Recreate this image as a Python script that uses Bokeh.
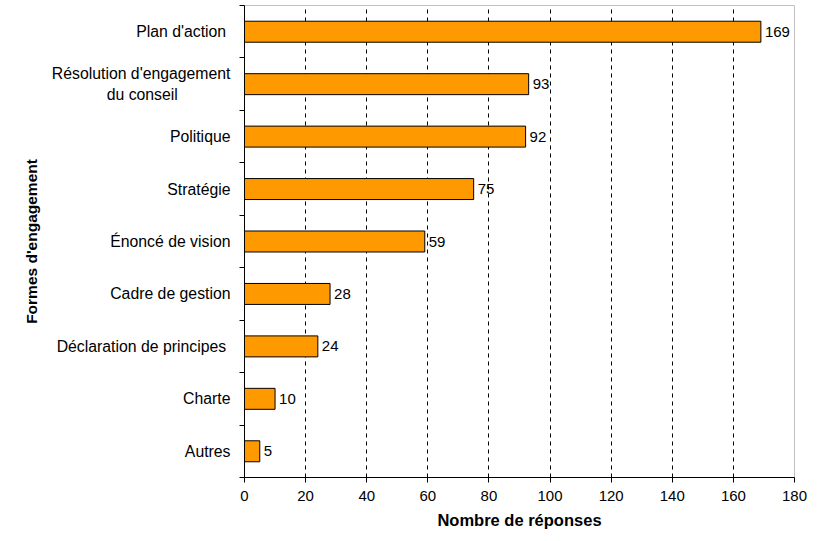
from bokeh.plotting import figure
from bokeh.models import ColumnDataSource, FixedTicker, Range1d
from bokeh.embed import file_html
from bokeh.resources import INLINE
from bokeh.core.properties import value

NB = "\u00a0"
categories = [
    "Plan d'action" + NB,
    "Résolution d'engagement\ndu conseil" + NB * 12,
    "Politique",
    "Stratégie",
    "Énoncé de vision",
    "Cadre de gestion",
    "Déclaration de principes" + NB,
    "Charte",
    "Autres",
]
counts = [169, 93, 92, 75, 59, 28, 24, 10, 5]
x_ticks = [0, 20, 40, 60, 80, 100, 120, 140, 160, 180]

n = len(categories)
ypos = [n - i - 0.5 for i in range(n)]
src = ColumnDataSource(dict(y=ypos, v=counts, lbl=[str(c) for c in counts]))

FONT = "Liberation Sans"

p = figure(
    width=831, height=533,
    x_range=Range1d(0, 180), y_range=Range1d(0, n),
    output_backend="svg", toolbar_location=None,
    min_border_left=244, min_border_right=37,
    min_border_top=5, min_border_bottom=56,
)
p.background_fill_color = "white"
p.border_fill_color = "white"
p.outline_line_color = "#C0C0C0"
p.outline_line_width = 1

p.hbar(y="y", left=0, right="v", height=0.4, source=src,
       fill_color="#FF9900", line_color="#000000", line_width=1)
p.text(x="v", y="y", text="lbl", source=src, x_offset=4,
       text_baseline="middle", text_align="left",
       text_font=value(FONT), text_font_size="15px", text_color="#000000")

# grid
p.ygrid.grid_line_color = None
p.xgrid.ticker = FixedTicker(ticks=x_ticks[1:-1])
p.xgrid.grid_line_color = "#000000"
p.xgrid.grid_line_dash = "4 4"
p.xgrid.grid_line_width = 1

# x axis
xa = p.xaxis[0]
xa.ticker = FixedTicker(ticks=x_ticks)
xa.axis_line_color = "#000000"
xa.major_tick_line_color = "#000000"
xa.major_tick_out = 5
xa.major_tick_in = 0
xa.minor_tick_line_color = None
xa.major_label_text_font = FONT
xa.major_label_text_font_size = "15px"
xa.major_label_text_color = "#000000"
xa.major_label_standoff = 8
xa.axis_label = "Nombre de réponses"
xa.axis_label_text_font = FONT
xa.axis_label_text_font_size = "16.5px"
xa.axis_label_text_font_style = "bold"
xa.axis_label_text_color = "#000000"
xa.axis_label_standoff = 7

# y axis
ya = p.yaxis[0]
ya.ticker = FixedTicker(ticks=ypos, minor_ticks=list(range(n + 1)))
ya.major_label_overrides = {y: c for y, c in zip(ypos, categories)}
ya.axis_line_color = "#000000"
ya.major_tick_out = 0
ya.major_tick_in = 0
ya.minor_tick_line_color = "#000000"
ya.minor_tick_out = 5
ya.minor_tick_in = 0
ya.major_label_text_font = FONT
ya.major_label_text_font_size = "15.8px"
ya.major_label_text_color = "#000000"
ya.major_label_standoff = 9
ya.axis_label = "Formes d'engagement"
ya.axis_label_text_font = FONT
ya.axis_label_text_font_size = "15.5px"
ya.axis_label_text_font_style = "bold"
ya.axis_label_text_color = "#000000"
ya.axis_label_standoff = 9

open("out.html", "w").write(file_html(p, INLINE))
